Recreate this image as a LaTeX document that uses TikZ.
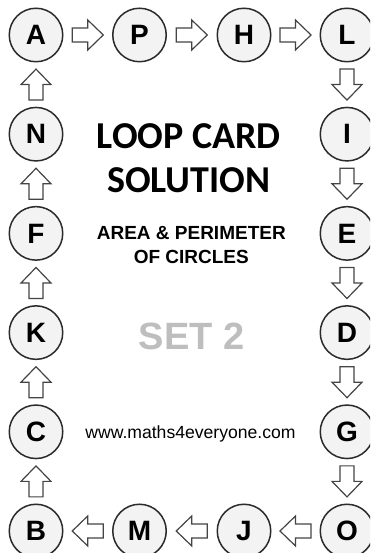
\documentclass[tikz,border=0pt]{standalone}
\usepackage{fontspec}
\setmainfont{Liberation Sans}
\newfontfamily\calfont{Carlito}
\usetikzlibrary{calc}
\definecolor{circfill}{HTML}{F3F3F3}
\definecolor{circline}{HTML}{2B2B2B}
\definecolor{arrline}{HTML}{454545}
\definecolor{setgray}{HTML}{BEBEBE}
\tikzset{
  letter/.style={circle, draw=circline, line width=1.5pt, fill=circfill,
    minimum size=53.5pt, inner sep=0pt,
    font=\fontsize{28}{28}\selectfont\bfseries},
  blockarr/.style={draw=arrline, line width=1.2pt, fill=white, line join=miter},
  title/.style={anchor=base, inner sep=0pt, font=\calfont\fontsize{38}{38}\selectfont\bfseries},
  subtitle/.style={anchor=base, inner sep=0pt, font=\fontsize{19}{19}\selectfont\bfseries},
}
\newcommand\blockarrow[3]{%
  \begin{scope}[shift={($(#1)!0.5!(#2)$)}, rotate=#3]
    \draw[blockarr] (-15.5,-7) -- (0,-7) -- (0,-15) -- (15.5,0) -- (0,15) -- (0,7) -- (-15.5,7) -- cycle;
  \end{scope}}
\begin{document}
\begin{tikzpicture}[x=1pt,y=1pt]
  \useasboundingbox (0,0) rectangle (370,553);
  \clip (0,0) rectangle (370,553);
  \fill[white] (0,0) rectangle (370,553);
  % top row
  \node[letter] (A) at (36,518) {A};
  \node[letter] (P) at (139.5,518) {P};
  \node[letter] (H) at (244,518) {H};
  \node[letter] (L) at (347,518) {L};
  % right column
  \node[letter] (I) at (347,418.8) {I};
  \node[letter] (E) at (347,319.6) {E};
  \node[letter] (D) at (347,220.4) {D};
  \node[letter] (G) at (347,121.2) {G};
  \node[letter] (O) at (347,22) {O};
  % bottom row
  \node[letter] (J) at (244,22) {J};
  \node[letter] (M) at (139.5,22) {M};
  \node[letter] (B) at (36,22) {B};
  % left column
  \node[letter] (C) at (36,121.2) {C};
  \node[letter] (K) at (36,220.4) {K};
  \node[letter] (F) at (36,319.6) {F};
  \node[letter] (N) at (36,418.8) {N};
  % arrows
  \blockarrow{A}{P}{0}
  \blockarrow{P}{H}{0}
  \blockarrow{H}{L}{0}
  \blockarrow{L}{I}{-90}
  \blockarrow{I}{E}{-90}
  \blockarrow{E}{D}{-90}
  \blockarrow{D}{G}{-90}
  \blockarrow{G}{O}{-90}
  \blockarrow{O}{J}{180}
  \blockarrow{J}{M}{180}
  \blockarrow{M}{B}{180}
  \blockarrow{B}{C}{90}
  \blockarrow{C}{K}{90}
  \blockarrow{K}{F}{90}
  \blockarrow{F}{N}{90}
  \blockarrow{N}{A}{90}
  % texts
  \node[title] (t1) at (188.7,404) {LOOP CARD};
  \node[title] (t2) at (188.7,360) {SOLUTION};
  \node[subtitle] (s1) at (191.3,313) {AREA \& PERIMETER};
  \node[subtitle] (s2) at (191.3,289) {OF CIRCLES};
  \node[anchor=base, inner sep=0pt, text=setgray, font=\fontsize{38}{38}\selectfont\bfseries] (set) at (191.7,203) {SET 2};
  \node[anchor=base, inner sep=0pt, font=\fontsize{17.6}{17.6}\selectfont] (url) at (190.5,114.7) {www.maths4everyone.com};
\end{tikzpicture}
\end{document}
